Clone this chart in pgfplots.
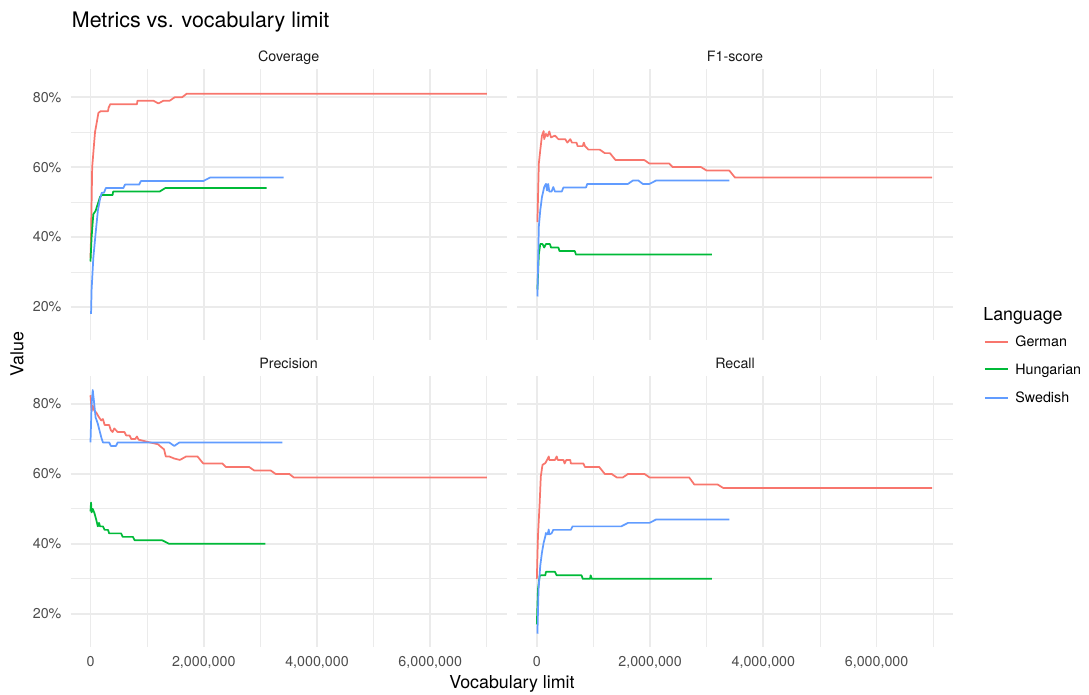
\documentclass[border=0pt]{standalone}
\usepackage{fontspec}
\setmainfont{TeX Gyre Heros}
\usepackage{pgfplots}
\pgfplotsset{compat=1.18}
\definecolor{de}{HTML}{F8766D}
\definecolor{hu}{HTML}{00BA38}
\definecolor{sv}{HTML}{619CFF}
\definecolor{gridc}{HTML}{EBEBEB}
\definecolor{tickc}{HTML}{4D4D4D}
\definecolor{stripc}{HTML}{1A1A1A}
\newcommand{\smallf}{\fontsize{8.8pt}{10pt}\selectfont}
\newcommand{\medf}{\fontsize{11pt}{13pt}\selectfont}
\newcommand{\bigf}{\fontsize{13.2pt}{15pt}\selectfont}
\pgfplotsset{panel/.style={
  scale only axis, width=269pt, height=167.2pt, anchor=south west,
  xmin=-0.35, xmax=7.35, ymin=10.5, ymax=88,
  xtick={0,2,4,6}, minor xtick={1,3,5,7},
  ytick={20,40,60,80}, minor ytick={30,50,70},
  /pgf/number format/assume math mode=true,
  grid=both,
  major grid style={line width=1.07pt,color=gridc},
  minor grid style={line width=0.53pt,color=gridc},
  axis line style={draw=none},
  major tick length=0pt, minor tick length=0pt,
  xticklabel style={font=\smallf, text=tickc, inner sep=0pt, yshift=-5.5pt},
  yticklabel style={font=\smallf, text=tickc, inner sep=0pt, xshift=-5.5pt},
  every axis title/.style={font=\smallf, text=stripc, at={(0.5,1)}, anchor=base, yshift=4.6pt, inner sep=0pt},
  every axis plot/.append style={line width=1.07pt, line join=round, mark=none},
}}
\begin{document}
\begin{tikzpicture}
\useasboundingbox (0,0) rectangle (671.9pt,428.8pt);
% Coverage
\begin{axis}[panel, at={(43.6pt,218.9pt)}, title={Coverage},
  xticklabels={,,,}, yticklabels={20\%,40\%,60\%,80\%}]
\addplot[de] coordinates {(0,34) (0.01,40) (0.03,60) (0.07,68) (0.08,70) (0.11,72.7) (0.14,75.5) (0.18,76) (0.31,76) (0.32,77) (0.35,78) (0.82,78) (0.83,79) (1.11,79) (1.2,78.2) (1.29,79) (1.4,79) (1.49,80) (1.62,80) (1.7,81) (7.0,81)};
\addplot[hu] coordinates {(0,33) (0.02,40) (0.05,46.5) (0.09,47.5) (0.13,49.5) (0.17,51.5) (0.2,52) (0.39,52) (0.4,53) (1.22,53) (1.32,54) (3.11,54)};
\addplot[sv] coordinates {(0.01,18) (0.02,25) (0.05,34) (0.09,41) (0.13,47.5) (0.17,51) (0.2,52.7) (0.24,52.7) (0.27,54) (0.58,54) (0.61,55) (0.86,55) (0.89,56) (1.99,56) (2.11,57) (3.41,57)};
\end{axis}
% F1-score
\begin{axis}[panel, at={(319.0pt,218.9pt)}, title={F1-score},
  xticklabels={,,,}, yticklabels={,,,}]
\addplot[de] coordinates {(0.01,44.3) (0.035,61) (0.06,64.8) (0.09,69) (0.12,70.3) (0.13,68) (0.16,69.5) (0.19,68.8) (0.22,70.2) (0.25,68.5) (0.32,69) (0.38,68) (0.5,68) (0.54,67) (0.59,68) (0.62,67) (0.7,67) (0.72,66) (0.81,66) (0.83,67) (0.85,66) (0.91,65) (1.11,65) (1.2,64) (1.29,64) (1.39,62) (1.9,62) (1.99,61) (2.34,61) (2.4,60) (2.9,60) (3.0,59) (3.4,59) (3.5,57) (6.98,57)};
\addplot[hu] coordinates {(0.01,25) (0.035,35) (0.06,38) (0.1,38) (0.13,37) (0.16,38) (0.23,38) (0.25,37) (0.38,37) (0.4,36) (0.67,36) (0.69,35) (3.09,35)};
\addplot[sv] coordinates {(0.01,23) (0.035,43) (0.06,47.6) (0.09,51.4) (0.13,54.3) (0.16,55.2) (0.18,53.3) (0.2,55.2) (0.22,53) (0.26,53) (0.29,54.3) (0.32,53) (0.44,53) (0.47,54.2) (0.87,54.2) (0.89,55.2) (1.61,55.2) (1.7,56.2) (1.79,56.2) (1.87,55.2) (1.99,55.2) (2.11,56.2) (3.4,56.2)};
\end{axis}
% Precision
\begin{axis}[panel, at={(43.6pt,29.6pt)}, title={Precision},
  xticklabels={0,{2,000,000},{4,000,000},{6,000,000}}, yticklabels={20\%,40\%,60\%,80\%}]
\addplot[de] coordinates {(0,82.5) (0.02,78) (0.04,79.5) (0.07,78) (0.1,77.6) (0.15,76.2) (0.19,75.3) (0.22,75.7) (0.25,74) (0.33,74) (0.36,72.5) (0.39,72) (0.42,73) (0.48,72) (0.6,72) (0.63,71) (0.69,71) (0.72,70) (0.79,70) (0.82,70.7) (0.85,69.8) (1.05,69) (1.19,68.5) (1.3,67) (1.33,65) (1.39,65) (1.48,64.4) (1.58,64) (1.69,65) (1.89,65) (1.99,63) (2.33,63) (2.39,62) (2.8,62) (2.89,61) (3.18,61) (3.27,60) (3.51,60) (3.59,59) (7.0,59)};
\addplot[hu] coordinates {(0,49.3) (0.01,51.8) (0.02,49) (0.04,50) (0.07,48.8) (0.1,47) (0.13,45) (0.15,46) (0.17,45) (0.22,45) (0.25,44) (0.31,44) (0.33,43) (0.54,43) (0.57,42) (0.75,42) (0.78,41) (1.27,41) (1.39,40) (3.09,40)};
\addplot[sv] coordinates {(0,69) (0.02,80) (0.04,84) (0.06,81) (0.09,76.2) (0.13,74.3) (0.16,72.4) (0.19,70.5) (0.22,69) (0.33,69) (0.36,68) (0.45,68) (0.48,69) (1.39,69) (1.48,68) (1.57,69) (3.39,69)};
\end{axis}
% Recall
\begin{axis}[panel, at={(319.0pt,29.6pt)}, title={Recall},
  xticklabels={0,{2,000,000},{4,000,000},{6,000,000}}, yticklabels={,,,}]
\addplot[de] coordinates {(0,30) (0.02,42.3) (0.05,51.8) (0.07,59.3) (0.1,62.6) (0.15,63.1) (0.18,64) (0.21,65) (0.22,64) (0.32,64) (0.35,65) (0.37,64) (0.47,64) (0.49,63) (0.52,64) (0.59,64) (0.6,63) (0.82,63) (0.85,62) (1.1,62) (1.2,60) (1.32,60) (1.41,59) (1.52,59) (1.61,60) (1.9,60) (1.99,59) (2.69,59) (2.78,57) (3.19,57) (3.29,56) (6.98,56)};
\addplot[hu] coordinates {(0,17) (0.02,27) (0.05,30.8) (0.07,31) (0.15,31) (0.16,32) (0.32,32) (0.35,31) (0.79,31) (0.81,30) (0.94,30) (0.95,31) (0.97,30) (3.09,30)};
\addplot[sv] coordinates {(0.01,14.3) (0.03,27) (0.06,33.7) (0.09,37.5) (0.12,40.3) (0.15,42.2) (0.16,43.1) (0.19,42.7) (0.21,44.1) (0.22,42.7) (0.26,43) (0.29,44) (0.6,44) (0.63,45) (1.49,45) (1.61,46) (1.99,46) (2.11,47) (3.4,47)};
\end{axis}
% Titles
\node[anchor=base west, font=\bigf, inner sep=0pt] at (44.2pt,412.0pt) {Metrics vs. vocabulary limit};
\node[rotate=90, anchor=base, font=\medf, inner sep=0pt] at (14.4pt,210.4pt) {Value};
\node[anchor=base, font=\medf, inner sep=0pt] at (315.9pt,4.3pt) {Vocabulary limit};
% Legend
\node[anchor=base west, font=\medf, inner sep=0pt] at (606.5pt,230.8pt) {Language};
\draw[de, line width=1.07pt] (607.7pt,218.0pt) -- (621.9pt,218.0pt);
\node[anchor=base west, font=\smallf, inner sep=0pt] at (626.3pt,214.85pt) {German};
\draw[hu, line width=1.07pt] (607.7pt,201.0pt) -- (621.9pt,201.0pt);
\node[anchor=base west, font=\smallf, inner sep=0pt] at (626.3pt,197.85pt) {Hungarian};
\draw[sv, line width=1.07pt] (607.7pt,183.4pt) -- (621.9pt,183.4pt);
\node[anchor=base west, font=\smallf, inner sep=0pt] at (626.3pt,180.25pt) {Swedish};
\end{tikzpicture}
\end{document}
